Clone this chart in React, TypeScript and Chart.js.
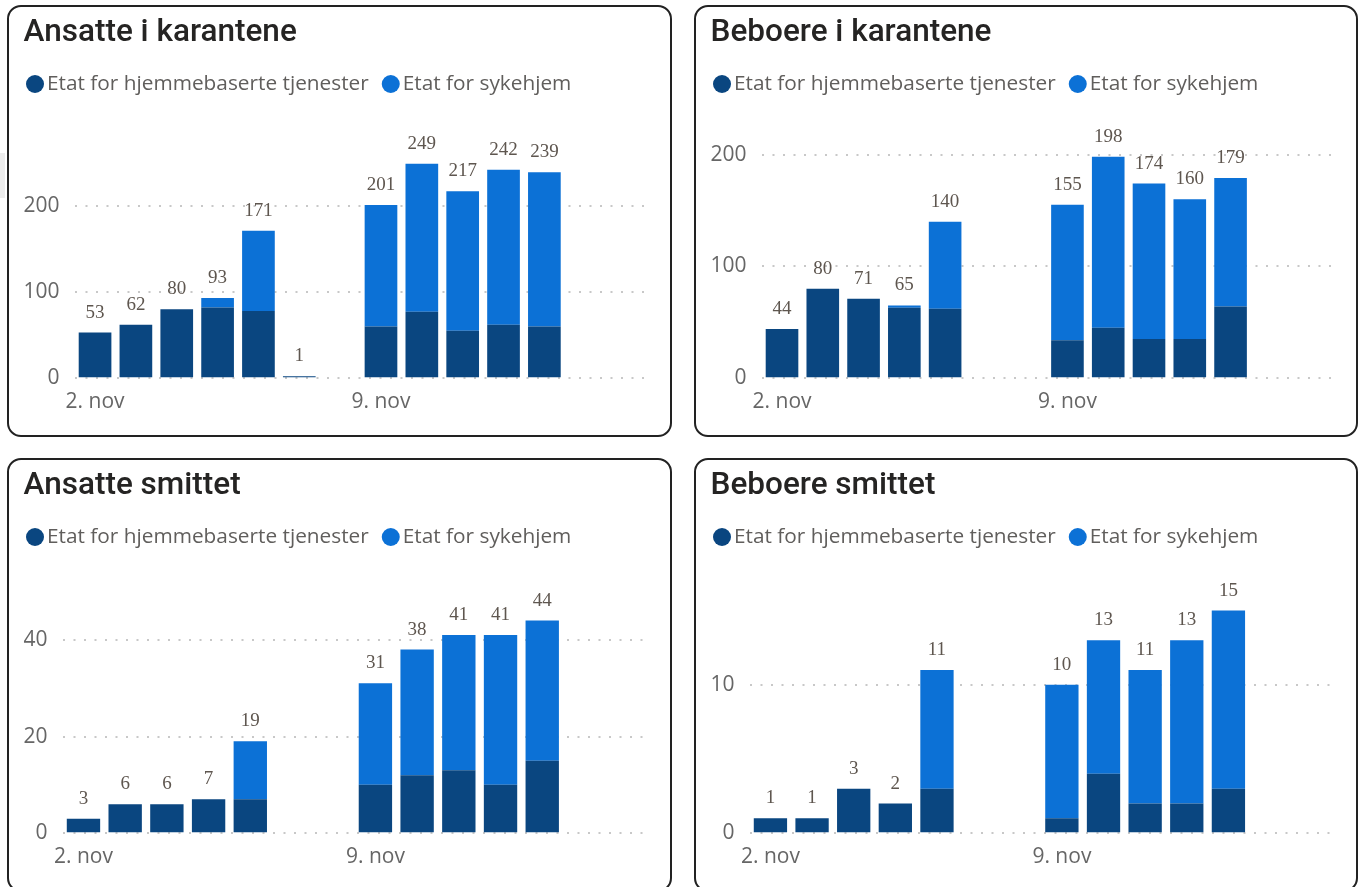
import React, { useEffect, useRef } from 'react';
import { Chart, registerables } from 'chart.js';

Chart.register(...registerables);

// ---------- data ----------
const dates = [
  '2. nov', '3. nov', '4. nov', '5. nov', '6. nov', '7. nov', '8. nov',
  '9. nov', '10. nov', '11. nov', '12. nov', '13. nov', '14. nov', '15. nov',
];
const xTickLabels = ['2. nov', '9. nov'];
const seriesNames = ['Etat for hjemmebaserte tjenester', 'Etat for sykehjem'];

const ansatteKarHjem = [53, 62, 80, 82, 78, 1, null, 60, 77, 55, 62, 60, null, null];
const ansatteKarSyk = [0, 0, 0, 11, 93, 0, null, 141, 172, 162, 180, 179, null, null];
const ansatteKarTicks = [0, 100, 200];

const beboereKarHjem = [44, 80, 71, 63, 62, null, null, 34, 45, 35, 35, 64, null, null];
const beboereKarSyk = [0, 0, 0, 2, 78, null, null, 121, 153, 139, 125, 115, null, null];
const beboereKarTicks = [0, 100, 200];

const ansatteSmHjem = [3, 6, 6, 7, 7, null, null, 10, 12, 13, 10, 15, null, null];
const ansatteSmSyk = [0, 0, 0, 0, 12, null, null, 21, 26, 28, 31, 29, null, null];
const ansatteSmTicks = [0, 20, 40];

const beboereSmHjem = [1, 1, 3, 2, 3, null, null, 1, 4, 2, 2, 3, null, null];
const beboereSmSyk = [0, 0, 0, 0, 8, null, null, 9, 9, 9, 11, 12, null, null];
const beboereSmTicks = [0, 10];

// ---------- styles ----------
const DARK = '#0A4680';
const LIGHT = '#0C71D6';
const TITLE_COLOR = '#252423';
const LEGEND_COLOR = '#605E5C';
const TICK_COLOR = '#666666';
const LABEL_COLOR = '#5E564F';
const GRID_COLOR = '#C8C8C8';
const SANS = '"Open Sans", "Noto Sans", sans-serif';

const legendPlugin = {
  id: 'inlineLegend',
  afterDraw(chart: any) {
    const ctx = chart.ctx;
    const r = 9;
    let x = 17;
    const y = 77;
    ctx.save();
    ctx.font = `20.8px ${SANS}`;
    ctx.textBaseline = 'middle';
    ctx.textAlign = 'left';
    chart.data.datasets.forEach((ds: any) => {
      ctx.fillStyle = ds.backgroundColor;
      ctx.beginPath();
      ctx.arc(x + r, y, r, 0, Math.PI * 2);
      ctx.fill();
      ctx.fillStyle = LEGEND_COLOR;
      ctx.fillText(ds.label, x + 2 * r + 3, y);
      x += 2 * r + 3 + ctx.measureText(ds.label).width + 13;
    });
    ctx.restore();
  },
};

const totalsPlugin = {
  id: 'stackTotals',
  afterDatasetsDraw(chart: any) {
    const ctx = chart.ctx;
    const metas = chart.data.datasets.map((_: any, i: number) => chart.getDatasetMeta(i));
    ctx.save();
    ctx.font = '19px "Liberation Serif", serif';
    ctx.fillStyle = LABEL_COLOR;
    ctx.textAlign = 'center';
    ctx.textBaseline = 'middle';
    chart.data.labels.forEach((_: any, j: number) => {
      let total = 0;
      let has = false;
      let top = Infinity;
      let x = 0;
      chart.data.datasets.forEach((ds: any, i: number) => {
        const v = ds.data[j];
        if (v === null || v === undefined) return;
        has = true;
        total += v;
        const el = metas[i].data[j];
        if (el) {
          top = Math.min(top, el.y, el.base);
          x = el.x;
        }
      });
      if (has) ctx.fillText(String(total), x, top - 20);
    });
    ctx.restore();
  },
};

type PanelProps = {
  title: string;
  hjem: (number | null)[];
  syk: (number | null)[];
  ticks: number[];
  yMax: number;
  left: number;
  top: number;
  width: number;
  height: number;
};

function Panel({ title, hjem, syk, ticks, yMax, left, top, width, height }: PanelProps) {
  const ref = useRef<HTMLCanvasElement>(null);
  useEffect(() => {
    const chart = new Chart(ref.current as HTMLCanvasElement, {
      type: 'bar',
      data: {
        labels: dates,
        datasets: [
          { label: seriesNames[0], data: hjem, backgroundColor: DARK, barPercentage: 0.8, categoryPercentage: 1, minBarLength: 2 },
          { label: seriesNames[1], data: syk, backgroundColor: LIGHT, barPercentage: 0.8, categoryPercentage: 1 },
        ],
      },
      options: {
        animation: false,
        responsive: true,
        maintainAspectRatio: false,
        layout: { padding: { left: 14.6, top: 7, right: 23.5, bottom: 20.8 } },
        plugins: {
          legend: { display: false },
          tooltip: { enabled: false },
          title: {
            display: true,
            text: title,
            align: 'start',
            color: TITLE_COLOR,
            font: { family: 'Roboto', size: 31.5, weight: '500' },
            padding: { top: 0, bottom: 52.4 },
          },
        },
        scales: {
          x: {
            stacked: true,
            grid: { display: false },
            border: { display: false },
            ticks: {
              autoSkip: false,
              maxRotation: 0,
              minRotation: 0,
              padding: 3,
              color: TICK_COLOR,
              font: { family: SANS, size: 21 },
              callback: (_v: any, i: number) => (xTickLabels.includes(dates[i]) ? dates[i] : ''),
            },
            afterFit: (scale: any) => {
              scale.height = 36;
            },
          },
          y: {
            stacked: true,
            min: 0,
            max: yMax,
            grid: { color: GRID_COLOR, lineWidth: 2, drawTicks: false },
            border: { display: false, dash: [2, 8.5] },
            ticks: {
              stepSize: ticks[1] - ticks[0],
              padding: 15,
              color: TICK_COLOR,
              font: { family: SANS, size: 21 },
            },
            afterBuildTicks: (scale: any) => {
              scale.ticks = scale.ticks.filter((t: any) => ticks.includes(t.value));
            },
            afterFit: (scale: any) => {
              scale.width -= 15;
            },
          },
        },
      } as any,
      plugins: [legendPlugin, totalsPlugin],
    });
    return () => chart.destroy();
  }, []);

  return (
    <div
      style={{
        position: 'absolute',
        left,
        top,
        width,
        height,
        border: '2px solid #222222',
        borderRadius: 14,
        boxSizing: 'border-box',
        background: '#ffffff',
        overflow: 'hidden',
      }}
    >
      <div style={{ position: 'absolute', left: 0, top: 0, right: 0, bottom: 0 }}>
        <canvas ref={ref} />
      </div>
    </div>
  );
}

export default function App() {
  return (
    <div
      style={{
        position: 'fixed',
        left: 0,
        top: 0,
        width: 1363,
        height: 887,
        overflow: 'hidden',
        background: '#ffffff',
      }}
    >
      <div style={{ position: 'absolute', left: 0, top: 153, width: 5, height: 45, background: '#ececec' }} />
      <Panel title="Ansatte i karantene" hjem={ansatteKarHjem} syk={ansatteKarSyk} ticks={ansatteKarTicks} yMax={318}
        left={7} top={5} width={665} height={432} />
      <Panel title="Beboere i karantene" hjem={beboereKarHjem} syk={beboereKarSyk} ticks={beboereKarTicks} yMax={245}
        left={694} top={5} width={664} height={432} />
      <Panel title="Ansatte smittet" hjem={ansatteSmHjem} syk={ansatteSmSyk} ticks={ansatteSmTicks} yMax={57.1}
        left={7} top={458} width={665} height={434} />
      <Panel title="Beboere smittet" hjem={beboereSmHjem} syk={beboereSmSyk} ticks={beboereSmTicks} yMax={18.6}
        left={694} top={458} width={664} height={434} />
    </div>
  );
}
